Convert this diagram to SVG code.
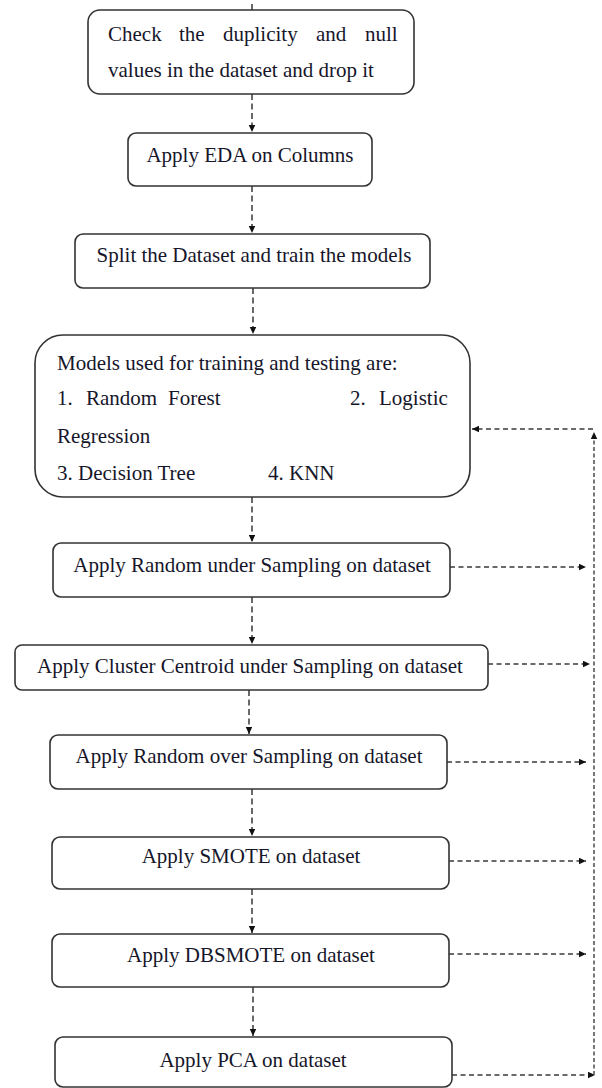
<svg xmlns="http://www.w3.org/2000/svg" width="602" height="1088" viewBox="0 0 602 1088">
<style>
.box{fill:#fff;stroke:#333;stroke-width:1.6}
.t{font-family:"Liberation Serif","Times New Roman",serif;font-size:21px;fill:#16162a}
.c{text-anchor:middle}
.v{fill:none;stroke:#2a2a2a;stroke-width:1.4;stroke-dasharray:6 3.5}
.h{fill:none;stroke:#3a3a3a;stroke-width:1.4;stroke-dasharray:5 3.5}
.r{fill:none;stroke:#555;stroke-width:1.6;stroke-dasharray:4 2.5}
</style>
<defs>
<marker id="ah" markerUnits="userSpaceOnUse" markerWidth="8" markerHeight="7" refX="7" refY="3.25" orient="auto">
<path d="M0,0 L7,3.25 L0,6.5 z" fill="#111"/>
</marker>
</defs>
<rect width="602" height="1088" fill="#fff"/>
<g id="connectors">
<line class="v" x1="252" y1="4" x2="252" y2="10"/>
<line class="v" x1="252" y1="94" x2="252" y2="132" marker-end="url(#ah)"/>
<line class="v" x1="252" y1="186" x2="252" y2="233" marker-end="url(#ah)"/>
<line class="v" x1="253" y1="288" x2="253" y2="334" marker-end="url(#ah)"/>
<line class="v" x1="252" y1="497" x2="252" y2="542" marker-end="url(#ah)"/>
<line class="v" x1="252" y1="597" x2="252" y2="644" marker-end="url(#ah)"/>
<line class="v" x1="249" y1="690" x2="249" y2="734" marker-end="url(#ah)"/>
<line class="v" x1="252" y1="789" x2="252" y2="836" marker-end="url(#ah)"/>
<line class="v" x1="252" y1="889" x2="252" y2="933" marker-end="url(#ah)"/>
<line class="v" x1="253" y1="987" x2="253" y2="1036" marker-end="url(#ah)"/>
<line class="h" x1="450" y1="567" x2="586" y2="567" marker-end="url(#ah)"/>
<line class="h" x1="488" y1="664" x2="590" y2="664" marker-end="url(#ah)"/>
<line class="h" x1="447" y1="762" x2="586" y2="762" marker-end="url(#ah)"/>
<line class="h" x1="449" y1="861" x2="586" y2="861" marker-end="url(#ah)"/>
<line class="h" x1="449" y1="954" x2="586" y2="954" marker-end="url(#ah)"/>
<line class="h" x1="452" y1="1075" x2="595" y2="1075" marker-end="url(#ah)"/>
<line class="r" x1="594" y1="1075" x2="594" y2="432" marker-end="url(#ah)"/>
<line class="h" x1="593" y1="429" x2="472" y2="429" marker-end="url(#ah)"/>
</g>
<g id="n1">
<rect class="box" x="88" y="10" width="326" height="84" rx="12"/>
<text class="t" y="41"><tspan x="108">Check</tspan><tspan x="179">the</tspan><tspan x="223">duplicity</tspan><tspan x="316">and</tspan><tspan x="365">null</tspan></text>
<text class="t" x="108" y="77">values in the dataset and drop it</text>
</g>
<g id="n2">
<rect class="box" x="128" y="133" width="244" height="53" rx="8"/>
<text class="t c" x="250" y="162">Apply EDA on Columns</text>
</g>
<g id="n3">
<rect class="box" x="75" y="234" width="355" height="54" rx="8"/>
<text class="t c" x="254" y="262">Split the Dataset and train the models</text>
</g>
<g id="n4">
<rect class="box" x="35" y="335" width="435" height="162" rx="28"/>
<text class="t" x="57" y="370">Models used for training and testing are:</text>
<text class="t" y="405"><tspan x="57">1.</tspan><tspan x="86">Random</tspan><tspan x="168">Forest</tspan><tspan x="350">2.</tspan><tspan x="379">Logistic</tspan></text>
<text class="t" x="57" y="443">Regression</text>
<text class="t" y="480"><tspan x="57">3. Decision Tree</tspan><tspan x="268">4. KNN</tspan></text>
</g>
<g id="n5">
<rect class="box" x="53" y="543" width="397" height="54" rx="8"/>
<text class="t c" x="252" y="572">Apply Random under Sampling on dataset</text>
</g>
<g id="n6">
<rect class="box" x="15" y="645" width="473" height="45" rx="7"/>
<text class="t c" x="250" y="673">Apply Cluster Centroid under Sampling on dataset</text>
</g>
<g id="n7">
<rect class="box" x="50" y="735" width="397" height="54" rx="8"/>
<text class="t c" x="249" y="763">Apply Random over Sampling on dataset</text>
</g>
<g id="n8">
<rect class="box" x="52" y="837" width="397" height="52" rx="8"/>
<text class="t c" x="251" y="863">Apply SMOTE on dataset</text>
</g>
<g id="n9">
<rect class="box" x="52" y="934" width="397" height="53" rx="8"/>
<text class="t c" x="251" y="962">Apply DBSMOTE on dataset</text>
</g>
<g id="n10">
<rect class="box" x="55" y="1037" width="397" height="50" rx="8"/>
<text class="t c" x="253" y="1067">Apply PCA on dataset</text>
</g>
</svg>
